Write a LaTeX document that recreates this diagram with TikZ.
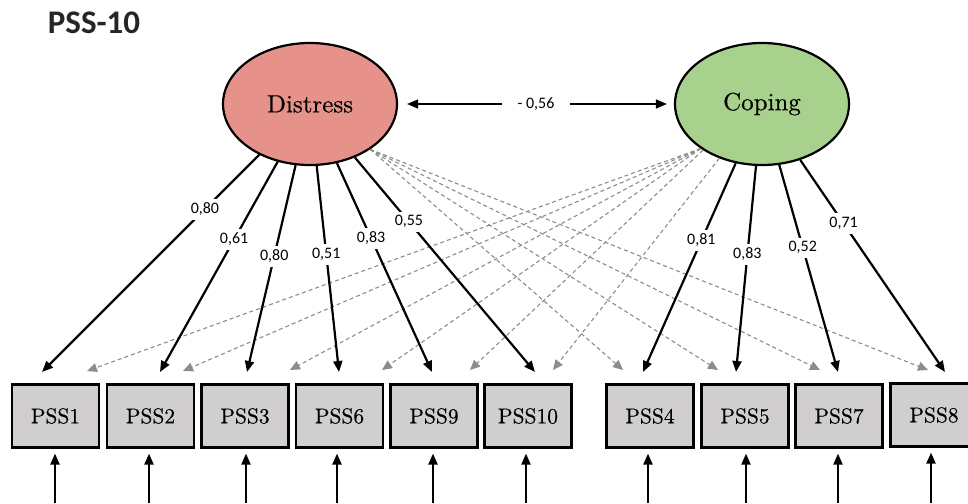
\documentclass[tikz,border=0pt]{standalone}
\usepackage{fontspec}
\newfontfamily\calib{Carlito}
\newfontfamily\serifthick[FakeBold=0.45]{lmroman10-regular.otf}
\usetikzlibrary{shapes.geometric,arrows.meta}
\definecolor{distress}{RGB}{230,146,139}
\definecolor{coping}{RGB}{169,209,142}
\definecolor{boxgray}{RGB}{208,206,206}
\definecolor{dashgray}{RGB}{140,140,140}
\begin{document}
\begin{tikzpicture}[x=1pt,y=-1pt,
  latent/.style={ellipse, draw, line width=2.2pt, minimum width=174pt, minimum height=122pt, inner sep=0pt, font=\serifthick\fontsize{25}{27}\selectfont},
  obs/.style={rectangle, draw, line width=2.2pt, fill=boxgray, minimum width=87pt, minimum height=63pt, inner sep=0pt, font=\serifthick\fontsize{21.5}{23}\selectfont},
  load/.style={line width=2.2pt, -{Triangle[length=11pt,width=9pt]}},
  cross/.style={dashgray, line width=1.1pt, dash pattern=on 4pt off 3pt, -{Triangle[length=10pt,width=9pt]}},
  err/.style={line width=2.2pt, -{Triangle[length=11pt,width=9pt]}, shorten >=5pt},
  lab/.style={fill=white, inner sep=4pt, font=\calib\fontsize{16}{17}\selectfont},
  ttl/.style={font=\calib\bfseries\fontsize{33}{36}\selectfont, text=black!85},
]
\useasboundingbox (0,0) rectangle (968,503);
\clip (0,0) rectangle (968,503);

\node[ttl] (T) at (94,23) {PSS-10};

\node[latent, fill=distress] (D) at (310,104) {Distress};
\node[latent, fill=coping] (C) at (762,104) {Coping};

% observed boxes
\node[obs] (P1) at (55.5,416) {PSS1};
\node[obs] (P2) at (150.5,416) {PSS2};
\node[obs] (P3) at (245,416) {PSS3};
\node[obs] (P6) at (339.5,416) {PSS6};
\node[obs] (P9) at (434,416) {PSS9};
\node[obs] (P10) at (528,416) {PSS10};
\node[obs] (P4) at (650,416) {PSS4};
\node[obs] (P5) at (745,416) {PSS5};
\node[obs] (P7) at (839,416) {PSS7};
\node[obs] (P8) at (934,415) {PSS8};

% solid tips
\coordinate (t1) at (42,372);
\coordinate (t2) at (160,372);
\coordinate (t3) at (247,372);
\coordinate (t6) at (339,372);
\coordinate (t9) at (432,372);
\coordinate (t10) at (535,372);
\coordinate (t4) at (643,372);
\coordinate (t5) at (736,372);
\coordinate (t7) at (838,372);
\coordinate (t8) at (945,372);
% dashed tips
\coordinate (g1) at (87,371);
\coordinate (g2) at (183,371);
\coordinate (g3) at (290,370);
\coordinate (g6) at (382,370);
\coordinate (g9) at (470,370);
\coordinate (g10) at (553,370);
\coordinate (g4) at (623,370);
\coordinate (g5) at (718,370);
\coordinate (g7) at (820,370);
\coordinate (g8) at (928,370);

% cross loadings (dashed)
\draw[cross] (C.216) -- (g1);
\draw[cross] (C.216) -- (g2);
\draw[cross] (C.216) -- (g3);
\draw[cross] (C.216) -- (g6);
\draw[cross] (C.218) -- (g9);
\draw[cross] (C) -- (g10);
\draw[cross] (D.-37) -- (g4);
\draw[cross] (D.-37) -- (g5);
\draw[cross] (D.-37) -- (g7);
\draw[cross] (D.-37) -- (g8);

% loadings
\draw[load] (D) -- (t1) node[lab, pos=0.25] (l1) {0,80};
\draw[load] (D) -- (t2) node[lab, pos=0.37] (l2) {0,61};
\draw[load] (D) -- (t3) node[lab, pos=0.44] (l3) {0,80};
\draw[load] (D) -- (t6) node[lab, pos=0.43] (l6) {0,51};
\draw[load] (D) -- (t9) node[lab, pos=0.36] (l9) {0,83};
\draw[load] (D) -- (t10) node[lab, pos=0.30] (l10) {0,55};
\draw[load] (C) -- (t4) node[lab, pos=0.37] (l4) {0,81};
\draw[load] (C) -- (t5) node[lab, pos=0.43] (l5) {0,83};
\draw[load] (C) -- (t7) node[lab, pos=0.40] (l7) {0,52};
\draw[load] (C) -- (t8) node[lab, pos=0.30] (l8) {0,71};

% correlation
\draw[line width=1.6pt, {Triangle[length=11pt,width=9pt]}-{Triangle[length=11pt,width=9pt]}, shorten <=9pt, shorten >=7pt]
  (D) -- (C) node[lab, midway, inner xsep=16pt] (r) {- 0,56};

% error arrows
\foreach \n/\x in {P1/55, P2/149, P3/246, P6/337, P9/433, P10/526, P4/648, P5/746, P7/838, P8/931} {
  \coordinate (e\n) at (\x,503);
  \draw[err] (e\n) -- (e\n |- \n.south);
}
\end{tikzpicture}
\end{document}
